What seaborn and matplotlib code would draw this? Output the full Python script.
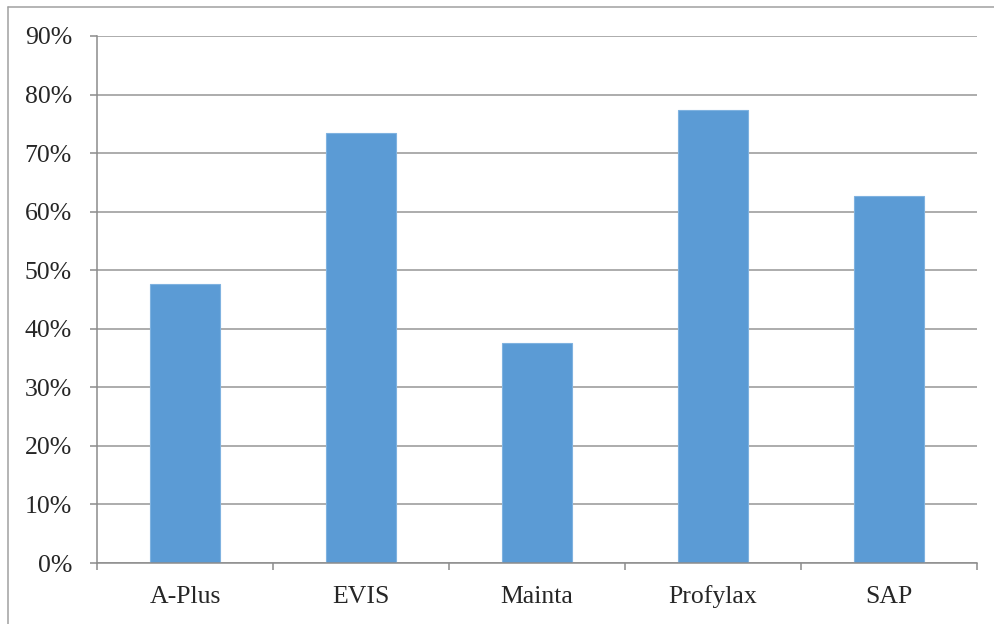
import matplotlib
matplotlib.use("Agg")
import matplotlib.pyplot as plt
from matplotlib.lines import Line2D
from matplotlib.ticker import FuncFormatter, MultipleLocator
import pandas as pd
import seaborn as sns

categories = ["A-Plus", "EVIS", "Mainta", "Profylax", "SAP"]
values = [0.477, 0.734, 0.375, 0.773, 0.627]

df = pd.DataFrame({"system": categories, "share": values})

sns.set_style("white")
plt.rcParams["font.family"] = ["Liberation Serif", "DejaVu Serif"]

W, H = 995, 624
fig = plt.figure(figsize=(W / 100, H / 100), dpi=100)
ax = fig.add_axes([97 / W, 1 - 563 / H, (977 - 97) / W, (563 - 36) / H])

sns.barplot(data=df, x="system", y="share", color="#5B9BD5", width=0.4,
            saturation=1, edgecolor="#7FB2E0", linewidth=0.8, ax=ax, zorder=3)

ax.set_ylim(0, 0.9)
ax.set_xlim(-0.5, len(categories) - 0.5)
ax.yaxis.set_major_locator(MultipleLocator(0.1))
ax.yaxis.set_major_formatter(FuncFormatter(lambda v, p: f"{v * 100:.0f}%"))
ax.grid(axis="y", color="#9E9E9E", linewidth=1.2, zorder=0)
ax.set_axisbelow(True)

for s in ["top", "right"]:
    ax.spines[s].set_visible(False)
for s in ["left", "bottom"]:
    ax.spines[s].set_color("#8C8C8C")
    ax.spines[s].set_linewidth(1.1)
    ax.spines[s].set_zorder(4)

ax.set_xlabel("")
ax.set_ylabel("")
ax.tick_params(axis="y", direction="out", length=5, width=1.1, color="#8C8C8C",
               labelsize=18.5, pad=13, left=True)
ax.set_xticks(range(len(categories)))
ax.set_xticklabels(categories)
ax.set_xticks([i - 0.5 for i in range(len(categories) + 1)], minor=True)
ax.tick_params(axis="x", which="major", length=0, labelsize=18.5, pad=29)
ax.tick_params(axis="x", which="minor", direction="out", length=5, width=1.1,
               color="#8C8C8C", bottom=True)
# align category names on a common baseline
for lab in ax.get_xticklabels():
    lab.set_verticalalignment("baseline")

# outer chart border (only top and left visible in the crop)
fig.add_artist(Line2D([8 / W, 8 / W], [0, 1 - 7 / H], color="#A0A0A0", linewidth=1.1))
fig.add_artist(Line2D([8 / W, 1], [1 - 7 / H, 1 - 7 / H], color="#A0A0A0", linewidth=1.1))

fig.savefig("out.png", dpi=100)
